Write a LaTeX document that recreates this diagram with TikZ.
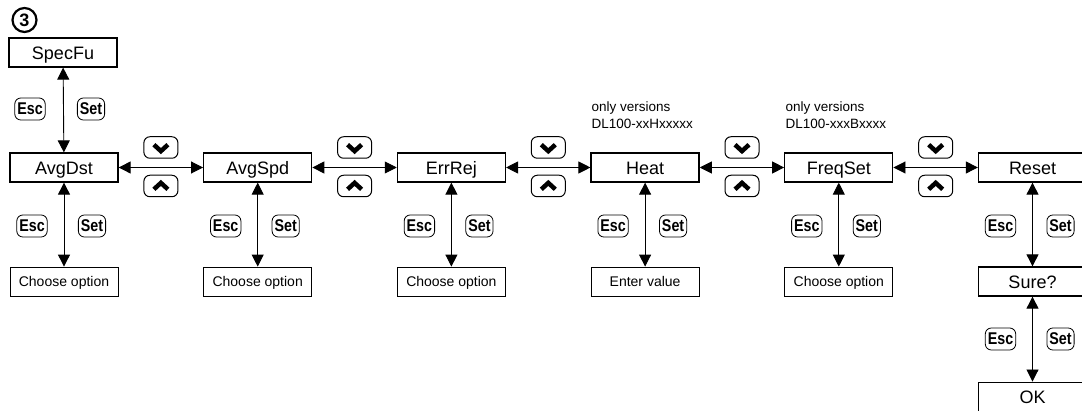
\documentclass[tikz,border=0pt]{standalone}
\usepackage{fontspec}
\setmainfont{Liberation Sans}
\newfontfamily\keyfont[FakeStretch=0.84]{Liberation Sans}
\usetikzlibrary{arrows.meta}
\begin{document}
\begin{tikzpicture}[x=1pt,y=-1pt,
  mainbox/.style={draw,line width=1.3pt,minimum width=108pt,minimum height=29pt,inner sep=0pt,text height=15pt,text depth=0pt,font=\fontsize{18}{20}\selectfont},
  subbox/.style={draw,line width=0.8pt,minimum width=108pt,minimum height=29pt,inner sep=0pt,text height=10pt,text depth=0pt,font=\fontsize{14}{16}\selectfont},
  conn/.style={line width=0.9pt,{Triangle[length=12pt,width=12pt]}-{Triangle[length=12pt,width=12pt]}},
  keybtn/.style={draw,rounded corners=6pt,line width=0.8pt,minimum height=22pt,inner xsep=2.5pt,inner ysep=0pt,text height=12pt,text depth=0pt,font=\keyfont\fontsize{17}{17}\bfseries},
  navbtn/.style={draw,rounded corners=6pt,line width=1pt,minimum width=34pt,minimum height=21.5pt,inner sep=0pt},
  chev/.style={line width=4.5pt,line join=miter,miter limit=3,line cap=butt},
  note/.style={anchor=north west,inner sep=0pt,align=left,font=\fontsize{13.5}{17}\selectfont}
]
\clip (0,0) rectangle (1082,411);
\fill[white] (0,0) rectangle (1082,411);

\node[circle,draw,line width=2.2pt,minimum size=24pt,inner sep=0pt,text height=12.5pt,text depth=0pt,font=\fontsize{18}{18}\bfseries] (num) at (24.5,20) {3};

\node[mainbox] (specfu) at (63,52.5) {SpecFu};

\node[mainbox] (m1) at (64,167.5) {AvgDst};
\node[mainbox] (m2) at (257.7,167.5) {AvgSpd};
\node[mainbox] (m3) at (451.4,167.5) {ErrRej};
\node[mainbox] (m4) at (645.1,167.5) {Heat};
\node[mainbox] (m5) at (838.8,167.5) {FreqSet};
\node[mainbox] (m6) at (1032.5,167.5) {Reset};

\node[subbox] (s1) at (64,281.5) {Choose option};
\node[subbox] (s2) at (257.7,281.5) {Choose option};
\node[subbox] (s3) at (451.4,281.5) {Choose option};
\node[subbox] (s4) at (645.1,281.5) {Enter value};
\node[subbox] (s5) at (838.8,281.5) {Choose option};
\node[mainbox] (sure) at (1032.5,281.5) {Sure?};
\node[mainbox,line width=0.9pt] (ok) at (1032.5,396.5) {OK};

\node[note] (n4) at (591.5,101.5) {only versions\\DL100-xxHxxxxx};
\node[note] (n5) at (785.5,101.5) {only versions\\DL100-xxxBxxxx};

\draw[conn] (specfu) -- (m1);
\foreach \a/\b in {m1/m2,m2/m3,m3/m4,m4/m5,m5/m6}{\draw[conn] (\a) -- (\b);}
\foreach \a/\b in {m1/s1,m2/s2,m3/s3,m4/s4,m5/s5,m6/sure}{\draw[conn] (\a) -- (\b);}
\draw[conn] (sure) -- (ok);

% Esc / Set keys
\node[keybtn] (e0) at (30,109) {Esc};
\node[keybtn] (t0) at (91,109) {Set};
\foreach \i/\x in {1/64,2/257.7,3/451.4,4/645.1,5/838.8,6/1032.5}{
  \node[keybtn] (e\i) at (\x-32,226) {Esc};
  \node[keybtn] (t\i) at (\x+28,226) {Set};
}
\node[keybtn] (e7) at (1000.5,339) {Esc};
\node[keybtn] (t7) at (1060.5,339) {Set};

% navigation keys
\foreach \i/\x in {1/160.9,2/354.6,3/548.3,4/742,5/935.7}{
  \node[navbtn] (dn\i) at (\x,147.5) {};
  \node[navbtn] (up\i) at (\x,186) {};
  \draw[chev] ([shift={(-7,-2.8)}]dn\i.center) -- ([shift={(0,3.6)}]dn\i.center) -- ([shift={(7,-2.8)}]dn\i.center);
  \draw[chev] ([shift={(-7,3.3)}]up\i.center) -- ([shift={(0,-3.1)}]up\i.center) -- ([shift={(7,3.3)}]up\i.center);
}
\end{tikzpicture}
\end{document}
